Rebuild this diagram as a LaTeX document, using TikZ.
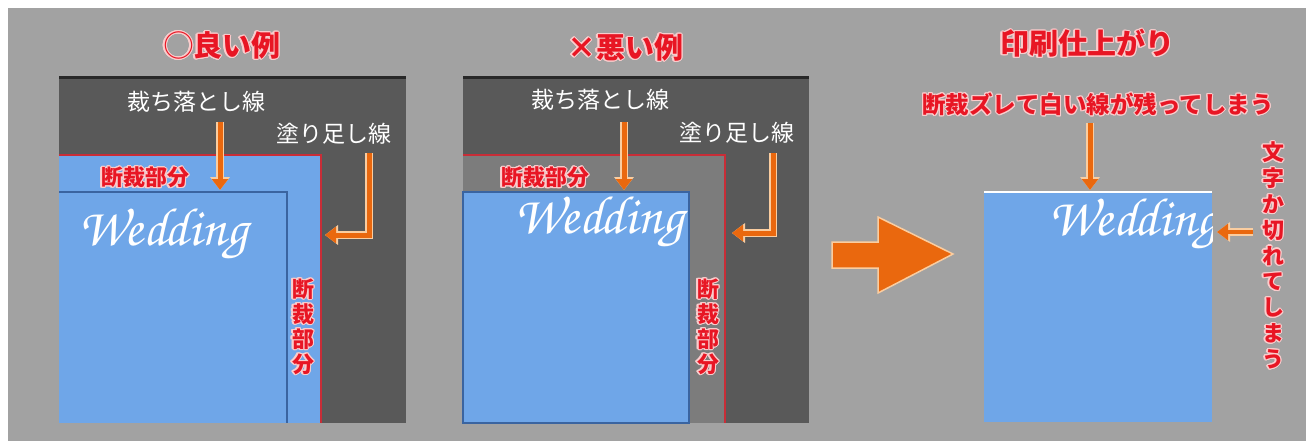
\documentclass[tikz,border=0pt]{standalone}
\usepackage[T1,TU]{fontenc}
\usepackage{fontspec}
\newfontfamily\jpfont{Noto Sans CJK JP}
\usepackage[copies]{contour}
\contourlength{1.1pt}
\usetikzlibrary{arrows.meta, positioning}
\definecolor{cBg}{RGB}{162,162,162}
\definecolor{cFrame}{RGB}{89,89,89}
\definecolor{cFrameTop}{RGB}{40,40,40}
\definecolor{cMid}{RGB}{124,124,124}
\definecolor{cPaper}{RGB}{111,166,232}
\definecolor{cTrim}{RGB}{58,100,160}
\definecolor{cBleed}{RGB}{200,45,55}
\definecolor{cRed}{RGB}{232,22,36}
\definecolor{cHaloRed}{RGB}{250,205,205}
\definecolor{cOrange}{RGB}{234,104,14}
\definecolor{cHalo}{RGB}{250,205,160}
\newcommand\weddingfont{\fontencoding{T1}\fontfamily{pzc}\fontseries{mb}\fontshape{it}\selectfont}
\newcommand\redtxt[1]{\contour{cHaloRed}{#1}}
\tikzset{
  framebox/.style={fill=cFrame, draw=none},
  titlelbl/.style={font=\jpfont\bfseries\fontsize{29}{32}\selectfont,
                   text=cRed, inner sep=0pt},
  linelbl/.style={font=\jpfont\fontsize{23}{26}\selectfont,
                  text=white, inner sep=0pt},
  cutlbl/.style={font=\jpfont\bfseries\fontsize{22}{24}\selectfont,
                 text=cRed, inner sep=0pt},
  vcutlbl/.style={cutlbl, align=center,
                  font=\jpfont\bfseries\fontsize{22}{25}\selectfont},
  guidearrow/.style={draw=cOrange, line width=5pt,
                     -{Triangle[width=16pt,length=11pt]},
                     preaction={draw=cHalo, line width=7.5pt,
                                -{Triangle[width=19pt,length=13pt]}}},
  weddinglbl/.style={font=\weddingfont\fontsize{54}{54}\selectfont,
                     text=white, inner sep=0pt, anchor=base west}
}

\begin{document}
\begin{tikzpicture}[x=1pt, y=-1pt]

  % ── Canvas ──
  \useasboundingbox (0,0) rectangle (1306,441);
  \fill[white] (0,0) rectangle (1306,441);
  \fill[cBg] (8,8) rectangle (1306,441);

  % ── Panel 1: good example ──
  \fill[cFrame] (59,76) rectangle (406,423);
  \fill[cFrameTop] (59,76) rectangle (406,79);
  \fill[cPaper] (59,155) rectangle (321,423);
  \draw[cBleed, line width=1.5pt] (59,155) -- (321,155) -- (321,423);
  \draw[cTrim, line width=2pt] (59,192) -- (287,192) -- (287,423);
  \node[weddinglbl] (gWedding) at (78,245) {Wedding};

  \node[titlelbl] (gTitle) at (222,46) {\redtxt{◯良い例}};
  \node[linelbl] (gCutLbl) at (196,102) {裁ち落とし線};
  \node[linelbl] (gBleedLbl) at (334,134) {塗り足し線};
  \node[cutlbl] (gTrimLbl) at (145,178) {\redtxt{断裁部分}};
  \node[vcutlbl] (gTrimVLbl) at (303,327)
      {\redtxt{断}\\\redtxt{裁}\\\redtxt{部}\\\redtxt{分}};

  \coordinate (gCutTop) at (220,122);
  \coordinate (gCutTip) at (220,190);
  \coordinate (gBendTop) at (369,153);
  \coordinate (gBendTip) at (325,235);
  \draw[guidearrow] (gCutTop) -- (gCutTip);
  \draw[guidearrow] (gBendTop) |- (gBendTip);

  % ── Panel 2: bad example ──
  \begin{scope}[shift={(404,0)}]
    \fill[cFrame] (59,76) rectangle (405,423);
    \fill[cFrameTop] (59,76) rectangle (405,79);
    \fill[cMid] (59,155) rectangle (321,423);
    \draw[cBleed, line width=1.5pt] (59,155) -- (321,155) -- (321,423);
    \filldraw[fill=cPaper, draw=cTrim, line width=1.5pt]
        (59,192) rectangle (285,423);
    \node[weddinglbl] (bWedding) at (110,233) {Wedding};

    \node[titlelbl] (bTitle) at (221,48) {\redtxt{×悪い例}};
    \node[linelbl] (bCutLbl) at (196,100) {裁ち落とし線};
    \node[linelbl] (bBleedLbl) at (333,133) {塗り足し線};
    \node[cutlbl] (bTrimLbl) at (141,178) {\redtxt{断裁部分}};
    \node[vcutlbl] (bTrimVLbl) at (304,327)
        {\redtxt{断}\\\redtxt{裁}\\\redtxt{部}\\\redtxt{分}};

    \coordinate (bCutTop) at (220,122);
    \coordinate (bCutTip) at (220,190);
    \coordinate (bBendTop) at (369,153);
    \coordinate (bBendTip) at (328,233);
    \draw[guidearrow] (bCutTop) -- (bCutTip);
    \draw[guidearrow] (bBendTop) |- (bBendTip);
  \end{scope}

  % ── Big arrow ──
  \filldraw[fill=cOrange, draw=cHalo, line width=1.5pt]
      (832,242) -- (878,242) -- (878,217) -- (953,254)
      -- (878,293) -- (878,268) -- (832,268) -- cycle;

  % ── Panel 3: printed result ──
  \fill[cPaper] (984,192) rectangle (1212,422);
  \draw[white, line width=2.5pt] (984,192) -- (1212,192);
  \begin{scope}
    \clip (984,192) rectangle (1212,422);
    \node[weddinglbl] (rWedding) at (1048,235) {Wedding};
  \end{scope}

  \node[titlelbl] (rTitle) at (1087,44) {\redtxt{印刷仕上がり}};
  \node[cutlbl, font=\jpfont\bfseries\fontsize{23.5}{26}\selectfont]
      (rShiftLbl) at (1098,105) {\redtxt{断裁ズレて白い線が残ってしまう}};
  \node[vcutlbl, font=\jpfont\bfseries\fontsize{22}{25.8}\selectfont]
      (rCutVLbl) at (1273,256)
      {\redtxt{文}\\\redtxt{字}\\\redtxt{か}\\\redtxt{切}\\\redtxt{れ}\\
       \redtxt{て}\\\redtxt{し}\\\redtxt{ま}\\\redtxt{う}};

  \coordinate (rShiftTop) at (1090,123);
  \coordinate (rShiftTip) at (1090,190);
  \coordinate (rCutTail) at (1253,232);
  \coordinate (rCutTip) at (1217,232);
  \draw[guidearrow] (rShiftTop) -- (rShiftTip);
  \draw[guidearrow, line width=4pt] (rCutTail) -- (rCutTip);

\end{tikzpicture}
\end{document}
